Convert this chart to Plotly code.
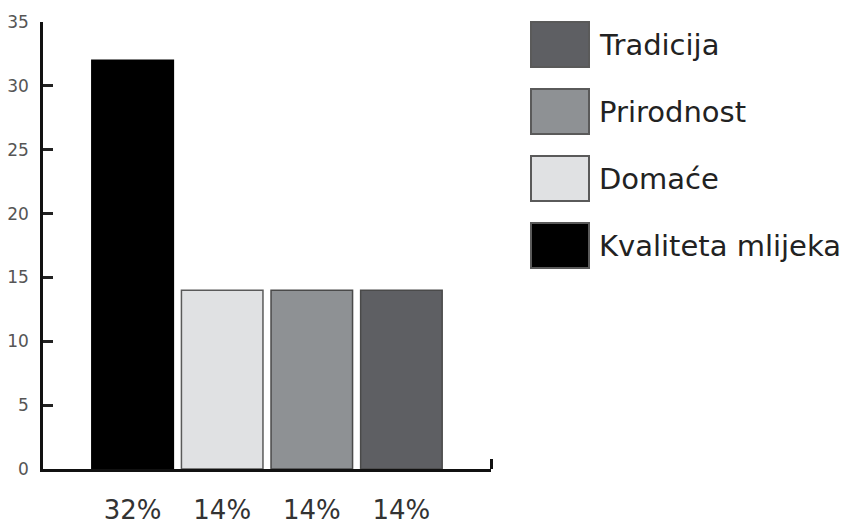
import plotly.graph_objects as go

# ---- data ----
categories = ["Kvaliteta mlijeka", "Domaće", "Prirodnost", "Tradicija"]
values = [32, 14, 14, 14]
tick_labels = ["32%", "14%", "14%", "14%"]
colors = ["#000000", "#e0e1e3", "#8e9194", "#5e5f63"]
outline = ["#000000", "#5a5a5a", "#4a4a4a", "#4a4a4a"]
y_ticks = [0, 5, 10, 15, 20, 25, 30, 35]

W, H = 850, 524
L, R, T, B = 43, 359, 22, 55
FONT = "DejaVu Sans"

fig = go.Figure()
xs = list(range(len(categories)))
for i, (name, v) in enumerate(zip(categories, values)):
    fig.add_trace(go.Bar(
        x=[xs[i]], y=[v], name=name, width=0.91,
        marker=dict(color=colors[i], line=dict(color=outline[i], width=1.5)),
        showlegend=False,
    ))

# custom legend with large swatches (paper coords)
pw, ph = W - L - R, H - T - B
def px(x):
    return (x - L) / pw
def py(y):
    return 1 - (y - T) / ph

shapes = []
annotations = []
row_top = 22
for k, idx in enumerate(reversed(range(len(categories)))):
    top = row_top + k * 67
    shapes.append(dict(type="rect", xref="paper", yref="paper",
                       x0=px(531), x1=px(589), y0=py(top + 45), y1=py(top),
                       fillcolor=colors[idx], line=dict(color="#5a5a5a", width=2)))
    annotations.append(dict(xref="paper", yref="paper", x=px(597), y=py(top + 23),
                            xanchor="left", yanchor="middle", showarrow=False,
                            text=categories[idx],
                            font=dict(family=FONT, size=29, color="#222222")))

fig.update_layout(
    width=W, height=H,
    margin=dict(l=L, r=R, t=T, b=B, pad=0, autoexpand=False),
    paper_bgcolor="white", plot_bgcolor="white",
    bargap=0.09,
    shapes=shapes, annotations=annotations,
    xaxis=dict(range=[-1, 4], tickmode="array", tickvals=xs, ticktext=tick_labels,
               ticks="", showgrid=False, zeroline=False, automargin=False,
               showline=True, linecolor="#111111", linewidth=2.5,
               tickfont=dict(family=FONT, size=26, color="#333333"),
               ticklabelstandoff=16,
               minor=dict(tickmode="array", tickvals=[4], ticks="inside",
                          ticklen=10, tickwidth=2.5, tickcolor="#111111")),
    yaxis=dict(range=[0, 35], tickmode="array", tickvals=y_ticks,
               ticks="inside", ticklen=10, tickwidth=3, tickcolor="#222222",
               showgrid=False, zeroline=False, automargin=False,
               showline=True, linecolor="#111111", linewidth=2.5,
               tickfont=dict(family=FONT, size=17, color="#555555"),
               ticklabelstandoff=8),
    showlegend=False,
)

fig.write_html("out.html", config={"displayModeBar": False},
               post_script="document.body.style.margin='0px';")
